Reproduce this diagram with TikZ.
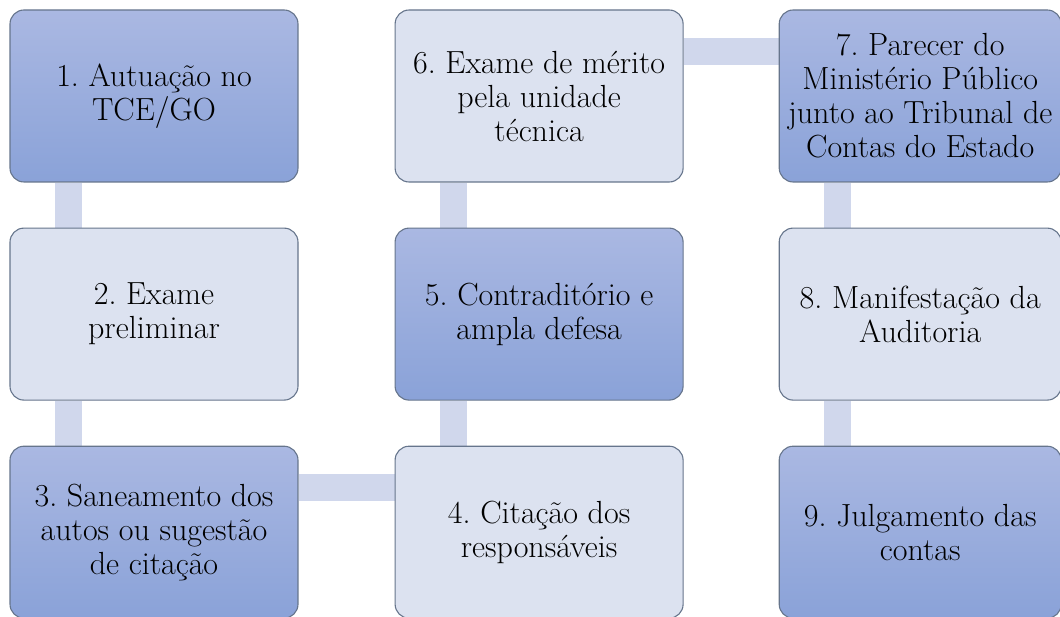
\documentclass[tikz,border=0pt]{standalone}
\usepackage{tikz}
\usetikzlibrary{positioning,backgrounds}
\frenchspacing
\definecolor{ink}{HTML}{000000}
\definecolor{edge}{HTML}{66758C}
\definecolor{steptop}{HTML}{AAB8E2}
\definecolor{stepbot}{HTML}{8AA2D8}
\definecolor{pale}{HTML}{DCE2F0}
\definecolor{barfill}{HTML}{D0D7EC}
\tikzset{
  every node/.style={font=\rmfamily\fontsize{32}{34}\selectfont,text=ink},
  stepbox/.style={draw=edge,line width=1.1pt,rounded corners=14pt,align=center,inner sep=2pt,minimum width=288pt,minimum height=172pt},
  darkbox/.style={stepbox,top color=steptop,bottom color=stepbot},
  lightbox/.style={stepbox,fill=pale},
  bar/.style={draw=barfill,line width=27pt}
}
\begin{document}
\begin{tikzpicture}[node distance=45pt and 96pt]
  \useasboundingbox (0,0) rectangle (1060pt,-617pt);
  \node[darkbox] (aut) at (154pt,-96pt) {1. Autuação no\\TCE/GO};
  \node[lightbox,below=of aut] (prel) {2. Exame\\preliminar};
  \node[darkbox,below=of prel] (san) {3. Saneamento dos\\autos ou sugestão\\de citação};
  \node[lightbox,right=of san] (cit) {4. Citação dos\\responsáveis};
  \node[darkbox,above=of cit] (contr) {5. Contraditório e\\ampla defesa};
  \node[lightbox,above=of contr] (merito) {6. Exame de mérito\\pela unidade\\técnica};
  \node[darkbox,minimum width=282pt,right=95pt of merito] (parecer) {7. Parecer do\\Ministério Público\\junto ao Tribunal de\\Contas do Estado};
  \node[lightbox,minimum width=282pt,below=of parecer] (audit) {8. Manifestação da\\Auditoria};
  \node[darkbox,minimum width=282pt,below=of audit] (julg) {9. Julgamento das\\contas};

  \begin{scope}[on background layer]
    \draw[bar] ([xshift=59pt]aut.south west)--([xshift=59pt]prel.north west);
    \draw[bar] ([xshift=59pt]prel.south west)--([xshift=59pt]san.north west);
    \draw[bar] ([yshift=-42pt]san.north east)--([yshift=-42pt]cit.north west);
    \draw[bar] ([xshift=59pt]cit.north west)--([xshift=59pt]contr.south west);
    \draw[bar] ([xshift=59pt]contr.north west)--([xshift=59pt]merito.south west);
    \draw[bar] ([yshift=-42pt]merito.north east)--([yshift=-42pt]parecer.north west);
    \draw[bar] ([xshift=59pt]parecer.south west)--([xshift=59pt]audit.north west);
    \draw[bar] ([xshift=59pt]audit.south west)--([xshift=59pt]julg.north west);
  \end{scope}
\end{tikzpicture}
\end{document}
